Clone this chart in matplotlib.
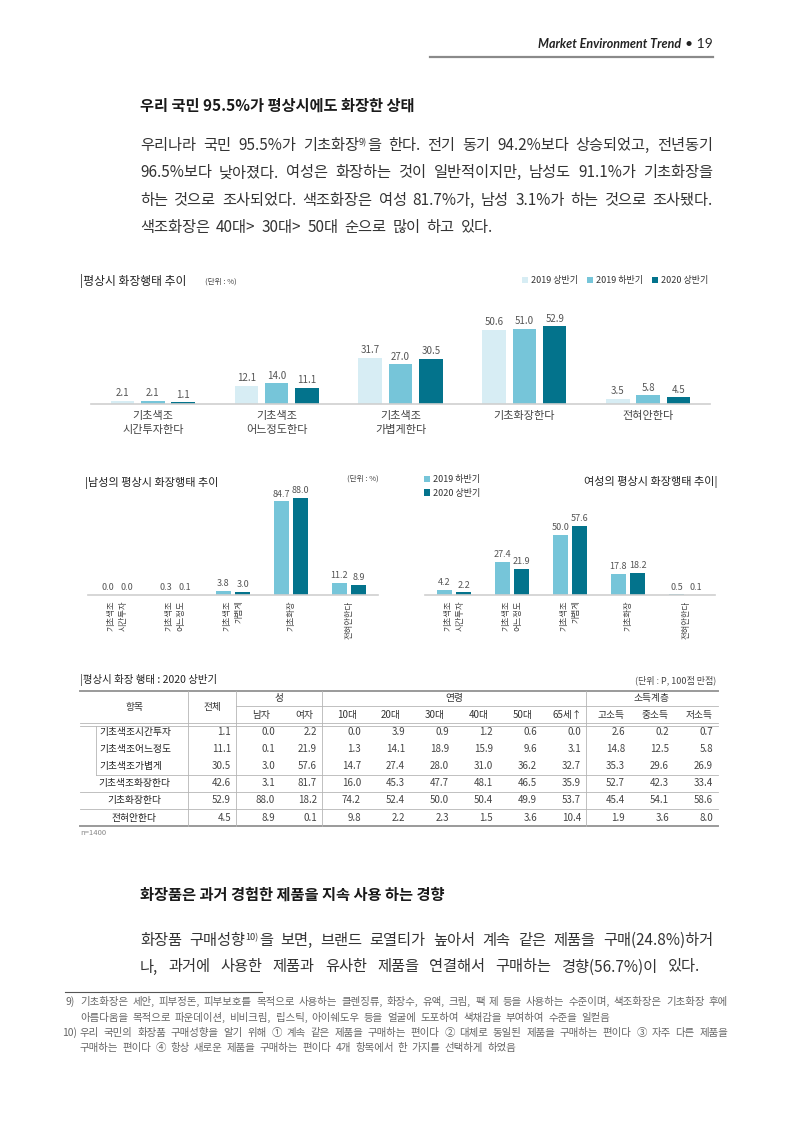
import matplotlib
matplotlib.use('Agg')
import matplotlib.pyplot as plt
import numpy as np

plt.rcParams['font.family'] = ['Noto Sans CJK KR', 'DejaVu Sans']

# ---- data ----
top_cats = ['기초색조\n시간투자한다', '기초색조\n어느정도한다', '기초색조\n가볍게한다', '기초화장한다', '전혀안한다']
top_2019_h1 = [2.1, 12.1, 31.7, 50.6, 3.5]
top_2019_h2 = [2.1, 14.0, 27.0, 51.0, 5.8]
top_2020_h1 = [1.1, 11.1, 30.5, 52.9, 4.5]
series_names = ['2019 상반기', '2019 하반기', '2020 상반기']

small_cats = ['기초색조\n시간투자', '기초색조\n어느정도', '기초색조\n가볍게', '기초화장', '전혀안한다']
men_2019_h2 = [0.0, 0.3, 3.8, 84.7, 11.2]
men_2020_h1 = [0.0, 0.1, 3.0, 88.0, 8.9]
women_2019_h2 = [4.2, 27.4, 50.0, 17.8, 0.5]
women_2020_h1 = [2.2, 21.9, 57.6, 18.2, 0.1]

tbl_rows = ['기초색조시간투자', '기초색조어느정도', '기초색조가볍게', '기초색조화장한다', '기초화장한다', '전혀안한다']
tbl_cols = ['전체', '남자', '여자', '10대', '20대', '30대', '40대', '50대', '65세↑', '고소득', '중소득', '저소득']
tbl_total = [1.1, 11.1, 30.5, 42.6, 52.9, 4.5]
tbl_male = [0.0, 0.1, 3.0, 3.1, 88.0, 8.9]
tbl_female = [2.2, 21.9, 57.6, 81.7, 18.2, 0.1]
tbl_age10 = [0.0, 1.3, 14.7, 16.0, 74.2, 9.8]
tbl_age20 = [3.9, 14.1, 27.4, 45.3, 52.4, 2.2]
tbl_age30 = [0.9, 18.9, 28.0, 47.7, 50.0, 2.3]
tbl_age40 = [1.2, 15.9, 31.0, 48.1, 50.4, 1.5]
tbl_age50 = [0.6, 9.6, 36.2, 46.5, 49.9, 3.6]
tbl_age65 = [0.0, 3.1, 32.7, 35.9, 53.7, 10.4]
tbl_inc_high = [2.6, 14.8, 35.3, 52.7, 45.4, 1.9]
tbl_inc_mid = [0.2, 12.5, 29.6, 42.3, 54.1, 3.6]
tbl_inc_low = [0.7, 5.8, 26.9, 33.4, 58.6, 8.0]

para1 = ['우리나라 국민 95.5%가 기초화장^9)^을 한다. 전기 동기 94.2%보다 상승되었고, 전년동기',
         '96.5%보다 낮아졌다. 여성은 화장하는 것이 일반적이지만, 남성도 91.1%가 기초화장을',
         '하는 것으로 조사되었다. 색조화장은 여성 81.7%가, 남성 3.1%가 하는 것으로 조사됐다.',
         '색조화장은 40대> 30대> 50대 순으로 많이 하고 있다.']
para2 = ['화장품 구매성향^10)^을 보면, 브랜드 로열티가 높아서 계속 같은 제품을 구매(24.8%)하거',
         '나, 과거에 사용한 제품과 유사한 제품을 연결해서 구매하는 경향(56.7%)이 있다.']
foot9 = ['기초화장은 세안, 피부정돈, 피부보호를 목적으로 사용하는 클렌징류, 화장수, 유액, 크림, 팩 제 등을 사용하는 수준이며,  색조화장은 기초화장 후에',
         '아름다움을 목적으로 파운데이션, 비비크림, 립스틱, 아이쉐도우 등을 얼굴에 도포하여 색채감을 부여하여 수준을 일컫음']
foot10 = ['우리 국민의 화장품 구매성향을 알기 위해  ① 계속 같은 제품을 구매하는 편이다  ② 대체로 동일된 제품을 구매하는 편이다 ③ 자주 다른 제품을',
          '구매하는 편이다  ④ 항상 새로운 제품을 구매하는 편이다 4개 항목에서 한 가지를 선택하게 하였음']

c_light = '#d7edf4'
c_mid = '#76c5d9'
c_dark = '#03738c'

W, H = 800, 1131
fig = plt.figure(figsize=(8, 11.31), dpi=100)
page = fig.add_axes([0, 0, 1, 1])
page.set_xlim(0, W)
page.set_ylim(H, 0)
page.axis('off')
renderer = fig.canvas.get_renderer()


def box(x, y, w, h):
    return [x / W, 1 - (y + h) / H, w / W, h / H]


def text_line(y, line, x0, x1=None, size=11, color='#333333'):
    # draw one line of words, spread to x1 if given
    words = [w for w in line.split(' ') if w]
    objs, widths = [], []
    for w in words:
        segs = []
        for k, part in enumerate(w.split('^')):
            if not part:
                continue
            sup = k % 2 == 1
            t = page.text(0, y - (size * 0.45 if sup else 0), part,
                          fontsize=size * 0.6 if sup else size, va='baseline', color=color)
            segs.append(t)
        objs.append(segs)
        widths.append([t.get_window_extent(renderer).width for t in segs])
    total = sum(sum(ws) for ws in widths)
    if x1 is None or len(words) < 2:
        gap = size * 100 / 72 * 0.4
    else:
        gap = (x1 - x0 - total) / (len(words) - 1)
    x = x0
    for segs, ws in zip(objs, widths):
        for t, wd in zip(segs, ws):
            t.set_x(x)
            x += wd
        x += gap


# ---- header ----
t19 = page.text(713, 44, '• 19', ha='right', va='center', fontsize=10, color='#222222',
                family=['Lato', 'DejaVu Sans'])
w19 = t19.get_window_extent(renderer).width
page.text(713 - w19 - 4, 44, 'Market Environment Trend', ha='right', va='center', fontsize=9,
          fontstyle='italic', fontweight='bold', color='#222222', family=['Lato', 'DejaVu Sans'])
page.plot([430, 713], [57, 57], color='#8a8a8a', lw=1.6)

# ---- section 1 ----
page.text(140, 106, '우리 국민 95.5%가 평상시에도 화장한 상태', fontsize=11, fontweight='bold',
          va='center', color='#1a1a1a')
for i, line in enumerate(para1):
    text_line(150 + i * 27.3, line, 140, 713 if i < len(para1) - 1 else None)


# ---- bar charts ----
def bar_chart(rect, series, colors, cats, ymax, width, step, lab_size, tick_size, rot, linesp, pad):
    ax = fig.add_axes(rect)
    x = np.arange(len(cats))
    n = len(series)
    conts = []
    for i, (vals, c) in enumerate(zip(series, colors)):
        off = (i - (n - 1) / 2) * step
        b = ax.bar(x + off, vals, width, color=c)
        ax.bar_label(b, fmt='%.1f', padding=2, fontsize=lab_size, color='#555555')
        conts.append(b)
    ax.set_xlim(-0.5, len(cats) - 0.5)
    ax.set_ylim(0, ymax)
    for s in ['top', 'right', 'left']:
        ax.spines[s].set_visible(False)
    ax.spines['bottom'].set_color('#cfcfcf')
    ax.spines['bottom'].set_linewidth(1.2)
    ax.set_yticks([])
    ax.set_xticks(x)
    ax.set_xticklabels(cats, fontsize=tick_size, color='#444444', rotation=rot,
                       linespacing=linesp, ma='right' if rot else 'center')
    ax.tick_params(axis='x', length=0, pad=pad)
    ax.patch.set_alpha(0)
    return ax, conts


ax_top, top_bars = bar_chart(box(91, 316, 619, 88), [top_2019_h1, top_2019_h2, top_2020_h1],
                             [c_light, c_mid, c_dark], top_cats, 60, 0.19, 0.245, 7, 8, 0, 1.5, 5)
page.text(80, 281, '|평상시 화장행태 추이', fontsize=8.5, va='center', color='#222222')
page.text(205, 282, '(단위 : %)', fontsize=5.5, va='center', color='#444444')
fig.legend(top_bars, series_names, loc='center right', bbox_to_anchor=(708 / W, 1 - 281 / H), ncol=3,
           frameon=False, fontsize=6.5, handlelength=0.7, handleheight=0.7, handletextpad=0.3,
           columnspacing=1.0, borderpad=0, borderaxespad=0, labelcolor='#333333')

ax_men, men_bars = bar_chart(box(88, 490, 290, 105), [men_2019_h2, men_2020_h1], [c_mid, c_dark],
                             small_cats, 95, 0.26, 0.33, 6.5, 6, 90, 1.5, 4)
page.text(85, 483, '|남성의 평상시 화장행태 추이', fontsize=8, va='center', color='#222222')
page.text(363, 479, '(단위 : %)', fontsize=5.5, va='center', ha='center', color='#444444')

ax_women, women_bars = bar_chart(box(425, 511, 290, 84), [women_2019_h2, women_2020_h1], [c_mid, c_dark],
                                 small_cats, 70, 0.26, 0.33, 6.5, 6, 90, 1.5, 4)
page.text(718, 482, '여성의 평상시 화장행태 추이|', fontsize=8, va='center', ha='right', color='#222222')
fig.legend(women_bars, series_names[1:], loc='upper left', bbox_to_anchor=(424 / W, 1 - 475 / H), ncol=1,
           frameon=False, fontsize=6.5, handlelength=0.7, handleheight=0.7, handletextpad=0.3,
           labelspacing=0.5, borderpad=0, borderaxespad=0, labelcolor='#333333')

# ---- table ----
page.text(80, 680, '|평상시 화장 행태 : 2020 상반기', fontsize=7.5, va='center', color='#222222')
page.text(716, 680, '(단위 : P, 100점 만점)', fontsize=6.5, va='center', ha='right', color='#444444')

col_edges = [80, 188, 236, 280, 322, 366, 410, 454, 498, 542, 586, 630, 674, 718]
row_y = [732, 749, 766, 783, 800, 818]
tbl_vals = [tbl_total, tbl_male, tbl_female, tbl_age10, tbl_age20, tbl_age30, tbl_age40,
            tbl_age50, tbl_age65, tbl_inc_high, tbl_inc_mid, tbl_inc_low]
line_c = '#b5b5b5'
page.plot([80, 718], [691, 691], color='#9a9a9a', lw=1.4)
page.plot([236, 718], [706, 706], color=line_c, lw=0.6)
page.plot([80, 718], [723, 723], color=line_c, lw=0.6)
page.plot([80, 718], [725.5, 725.5], color=line_c, lw=0.6)
page.plot([96, 96], [725.5, 775], color=line_c, lw=0.6)
page.plot([96, 718], [775, 775], color=line_c, lw=0.6)
page.plot([80, 718], [792, 792], color=line_c, lw=0.6)
page.plot([80, 718], [809, 809], color=line_c, lw=0.6)
page.plot([80, 718], [826, 826], color='#9a9a9a', lw=1.4)
for xv in [188, 236, 322, 586]:
    page.plot([xv, xv], [691, 826], color=line_c, lw=0.6)

page.text(134, 707, '항목', fontsize=7, ha='center', va='center', color='#333333')
page.text(212, 707, '전체', fontsize=7, ha='center', va='center', color='#333333')
page.text(279, 698, '성', fontsize=7, ha='center', va='center', color='#333333')
page.text(454, 698, '연령', fontsize=7, ha='center', va='center', color='#333333')
page.text(652, 698, '소득계층', fontsize=7, ha='center', va='center', color='#333333')
for j, name in enumerate(tbl_cols[1:], start=2):
    cx = (col_edges[j] + col_edges[j + 1]) / 2 + 3
    page.text(cx, 715, name, fontsize=7, ha='center', va='center', color='#333333')

for i, (name, y) in enumerate(zip(tbl_rows, row_y)):
    if i < 3:
        page.text(99, y, name, fontsize=7, ha='left', va='center', color='#222222')
    else:
        page.text(134, y, name, fontsize=7, ha='center', va='center', color='#222222')
    for j, vals in enumerate(tbl_vals, start=1):
        page.text(col_edges[j + 1] - 5, y, f'{vals[i]:.1f}', fontsize=7, ha='right', va='center',
                  color='#444444')
page.text(80, 833, 'n=1400', fontsize=5.5, va='center', color='#888888')

# ---- section 2 ----
page.text(140, 895, '화장품은 과거 경험한 제품을 지속 사용 하는 경향', fontsize=11, fontweight='bold',
          va='center', color='#1a1a1a')
text_line(945, para2[0], 140, 713)
text_line(971.5, para2[1], 140, 700)

# ---- footnotes ----
page.plot([65, 262], [992, 992], color='#555555', lw=0.8)
page.text(65, 1005, '9)', fontsize=7.5, va='baseline', color='#666666')
text_line(1005, foot9[0], 80, 728, size=7.5, color='#666666')
text_line(1020.5, foot9[1], 80, None, size=7.5, color='#666666')
page.text(62, 1036, '10)', fontsize=7.5, va='baseline', color='#666666')
text_line(1036, foot10[0], 80, 728, size=7.5, color='#666666')
text_line(1051.5, foot10[1], 80, None, size=7.5, color='#666666')

fig.savefig('out.png', dpi=100)
